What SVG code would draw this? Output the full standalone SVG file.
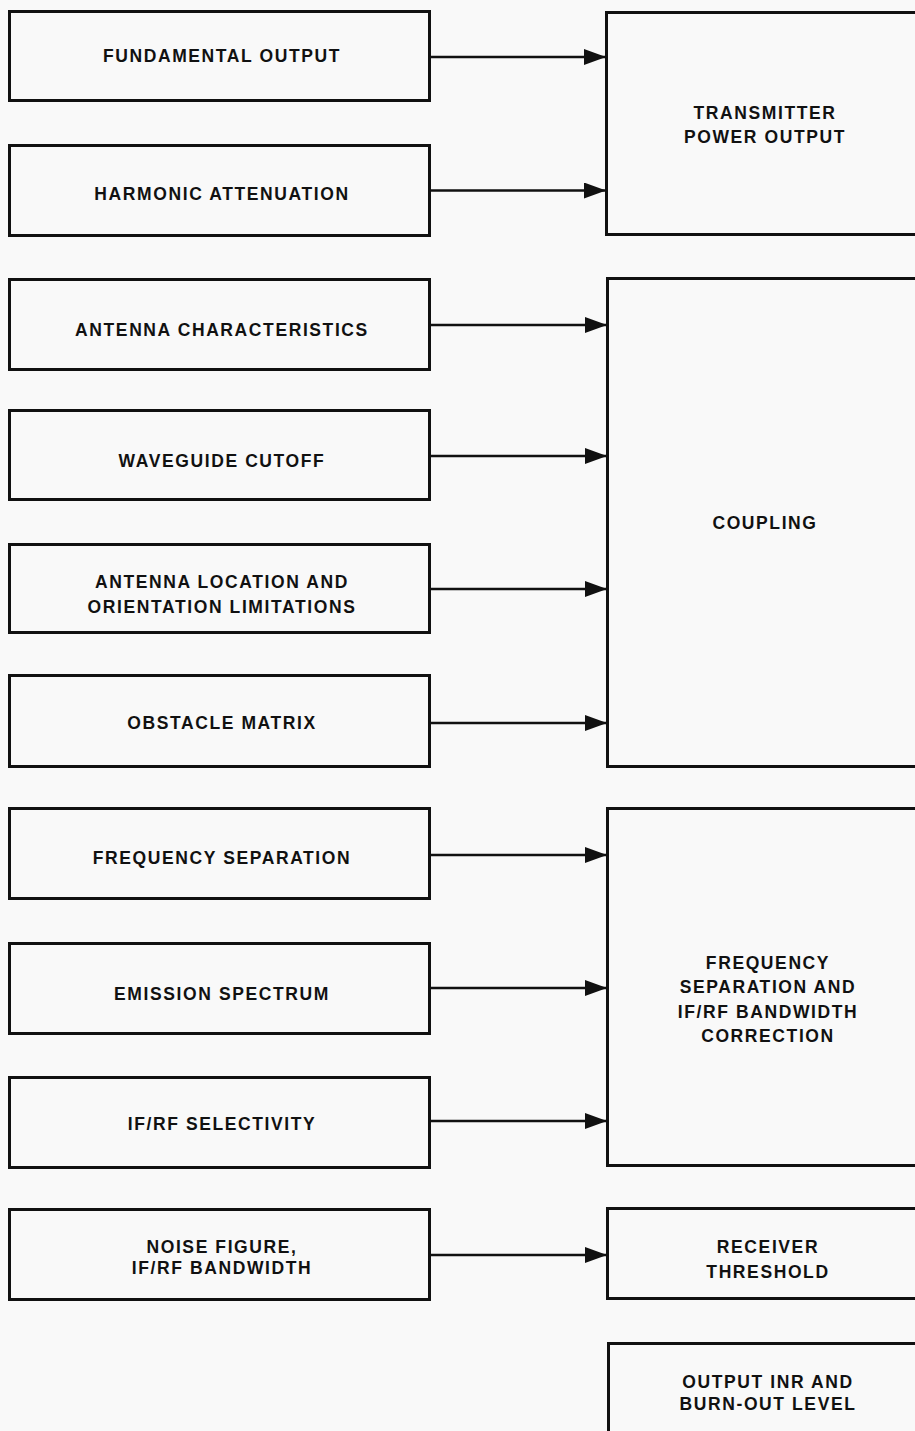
<svg xmlns="http://www.w3.org/2000/svg" width="915" height="1431" viewBox="0 0 915 1431">
<style>
.bx{fill:none;stroke:#111;stroke-width:3}
.t{font-family:"Liberation Sans",Arial,sans-serif;font-weight:bold;font-size:17.5px;letter-spacing:1.6px;fill:#111;text-anchor:middle}
.c{fill:none;stroke:#111;stroke-width:2.6}
</style>
<defs>
<marker id="ah" markerUnits="userSpaceOnUse" markerWidth="24" markerHeight="18" refX="22" refY="8" orient="auto">
<path d="M0,0 L22,8 L0,16 Z" fill="#111"/>
</marker>
</defs>
<rect width="915" height="1431" fill="#f9f9f9"/>
<g id="n1"><rect class="bx" x="9.5" y="11.5" width="420" height="89"/><text class="t" x="222" y="62">FUNDAMENTAL OUTPUT</text></g>
<g id="n2"><rect class="bx" x="9.5" y="145.5" width="420" height="90"/><text class="t" x="222" y="200">HARMONIC ATTENUATION</text></g>
<g id="n3"><rect class="bx" x="9.5" y="279.5" width="420" height="90"/><text class="t" x="222" y="335.5">ANTENNA CHARACTERISTICS</text></g>
<g id="n4"><rect class="bx" x="9.5" y="410.5" width="420" height="89"/><text class="t" x="222" y="466.5">WAVEGUIDE CUTOFF</text></g>
<g id="n5"><rect class="bx" x="9.5" y="544.5" width="420" height="88"/><text class="t" x="222" y="587.5">ANTENNA LOCATION AND</text><text class="t" x="222" y="612.5">ORIENTATION LIMITATIONS</text></g>
<g id="n6"><rect class="bx" x="9.5" y="675.5" width="420" height="91"/><text class="t" x="222" y="728.5">OBSTACLE MATRIX</text></g>
<g id="n7"><rect class="bx" x="9.5" y="808.5" width="420" height="90"/><text class="t" x="222" y="863.5">FREQUENCY SEPARATION</text></g>
<g id="n8"><rect class="bx" x="9.5" y="943.5" width="420" height="90"/><text class="t" x="222" y="999.5">EMISSION SPECTRUM</text></g>
<g id="n9"><rect class="bx" x="9.5" y="1077.5" width="420" height="90"/><text class="t" x="222" y="1129.5">IF/RF SELECTIVITY</text></g>
<g id="n10"><rect class="bx" x="9.5" y="1209.5" width="420" height="90"/><text class="t" x="222" y="1252.5">NOISE FIGURE,</text><text class="t" x="222" y="1273.5">IF/RF BANDWIDTH</text></g>
<g id="r1"><rect class="bx" x="606.5" y="12.5" width="320" height="222"/><text class="t" x="765" y="118.5">TRANSMITTER</text><text class="t" x="765" y="143">POWER OUTPUT</text></g>
<g id="r2"><rect class="bx" x="607.5" y="278.5" width="320" height="488"/><text class="t" x="765" y="528.5">COUPLING</text></g>
<g id="r3"><rect class="bx" x="607.5" y="808.5" width="320" height="357"/><text class="t" x="768" y="968.5">FREQUENCY</text><text class="t" x="768" y="992.5">SEPARATION AND</text><text class="t" x="768" y="1017.5">IF/RF BANDWIDTH</text><text class="t" x="768" y="1041.5">CORRECTION</text></g>
<g id="r4"><rect class="bx" x="607.5" y="1208.5" width="320" height="90"/><text class="t" x="768" y="1252.5">RECEIVER</text><text class="t" x="768" y="1277.5">THRESHOLD</text></g>
<g id="r5"><rect class="bx" x="608.5" y="1343.5" width="320" height="120"/><text class="t" x="768" y="1387.5">OUTPUT INR AND</text><text class="t" x="768" y="1409.5">BURN-OUT LEVEL</text></g>
<g id="connectors">
<path class="c" d="M431,57 H606" marker-end="url(#ah)"/>
<path class="c" d="M431,190.5 H606" marker-end="url(#ah)"/>
<path class="c" d="M431,325 H607" marker-end="url(#ah)"/>
<path class="c" d="M431,456 H607" marker-end="url(#ah)"/>
<path class="c" d="M431,589 H607" marker-end="url(#ah)"/>
<path class="c" d="M431,723 H607" marker-end="url(#ah)"/>
<path class="c" d="M431,855 H607" marker-end="url(#ah)"/>
<path class="c" d="M431,988 H607" marker-end="url(#ah)"/>
<path class="c" d="M431,1121 H607" marker-end="url(#ah)"/>
<path class="c" d="M431,1255 H607" marker-end="url(#ah)"/>
</g>
</svg>
